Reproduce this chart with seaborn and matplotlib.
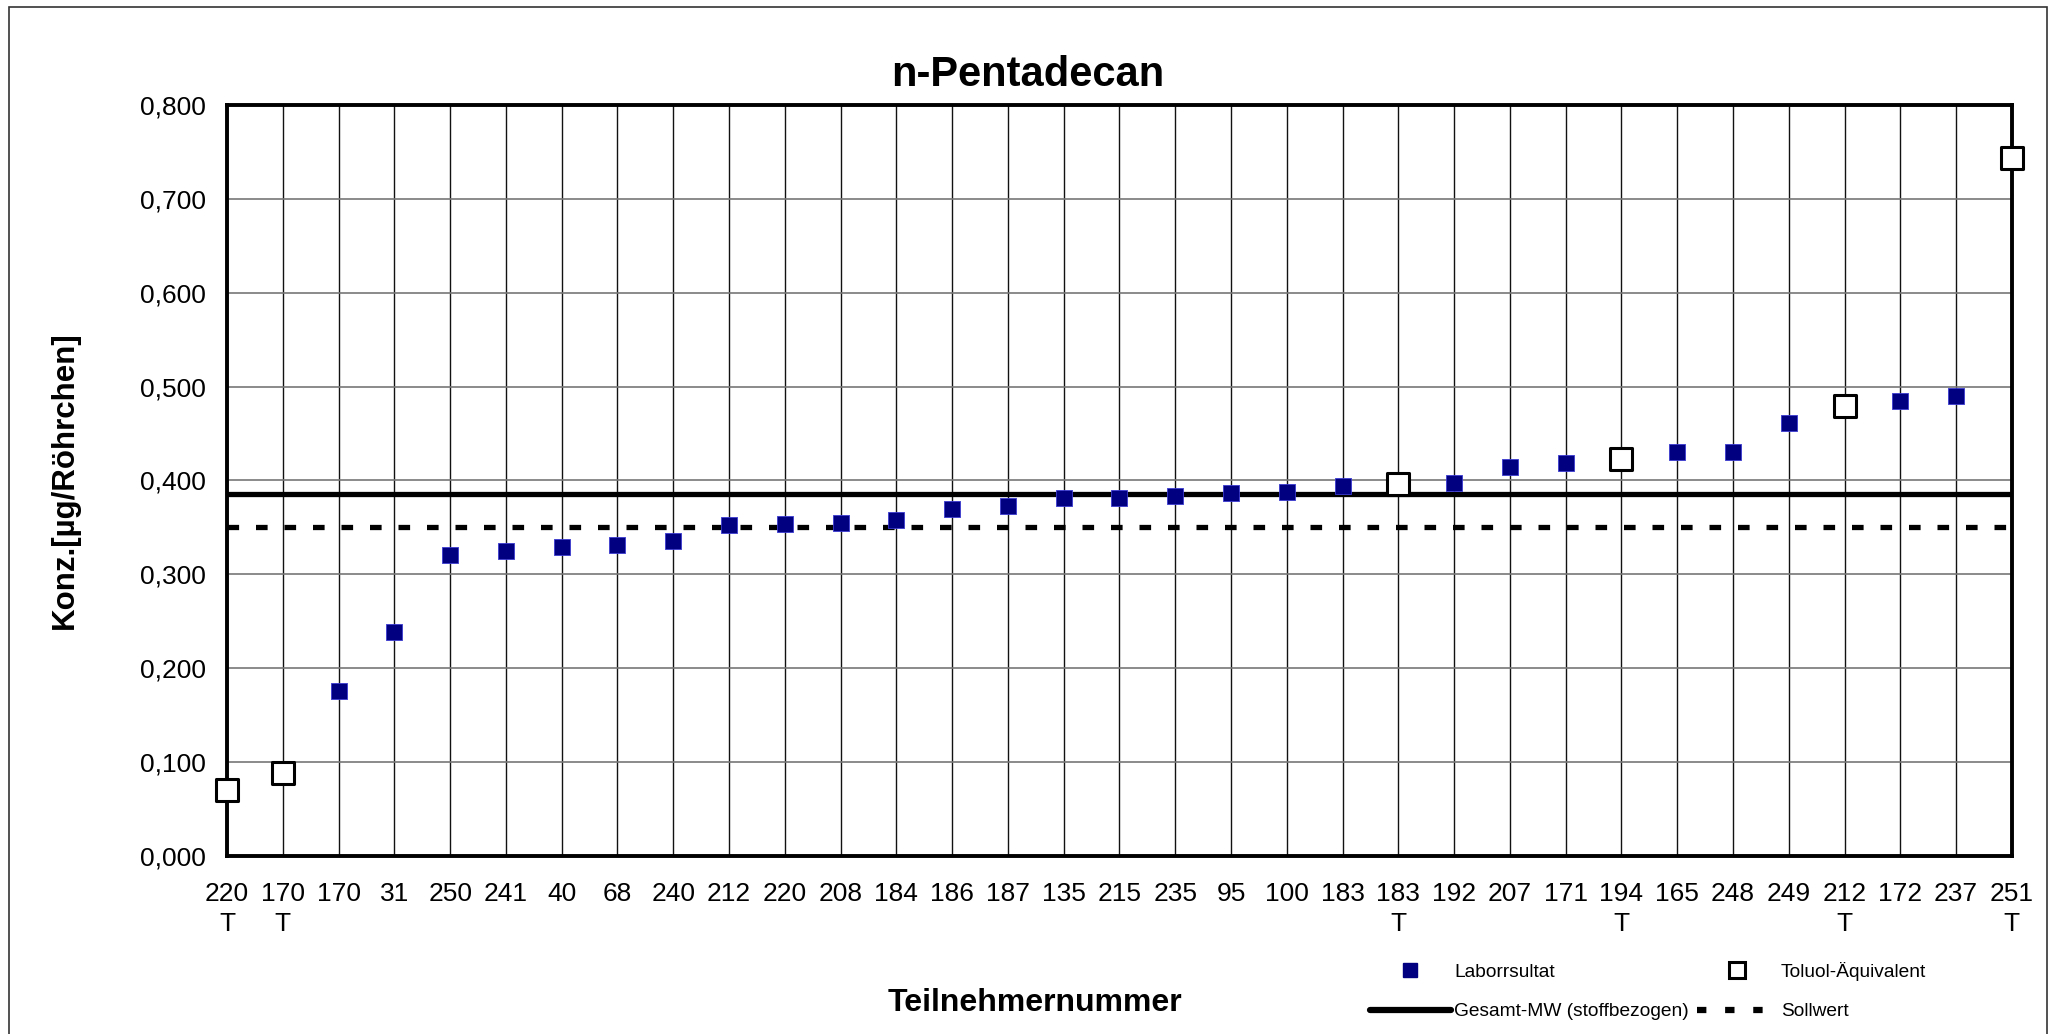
import matplotlib
matplotlib.use("Agg")
import matplotlib.pyplot as plt
import matplotlib.patches as mpatches
from matplotlib.lines import Line2D
from matplotlib.ticker import FuncFormatter, MultipleLocator
import pandas as pd
import seaborn as sns

# participant numbers along the x axis, "T" marks toluene-equivalent results
teilnehmer = ["220", "170", "170", "31", "250", "241", "40", "68", "240", "212",
              "220", "208", "184", "186", "187", "135", "215", "235", "95", "100",
              "183", "183", "192", "207", "171", "194", "165", "248", "249", "212",
              "172", "237", "251"]
toluol = [True, True, False, False, False, False, False, False, False, False,
          False, False, False, False, False, False, False, False, False, False,
          False, True, False, False, False, True, False, False, False, True,
          False, False, True]
konz = [0.070, 0.088, 0.176, 0.239, 0.321, 0.325, 0.329, 0.331, 0.336, 0.353,
        0.354, 0.355, 0.358, 0.370, 0.373, 0.381, 0.381, 0.383, 0.387, 0.388,
        0.394, 0.396, 0.397, 0.414, 0.419, 0.423, 0.430, 0.430, 0.461, 0.479,
        0.485, 0.490, 0.743]
gesamt_mw = 0.386
sollwert = 0.351

df = pd.DataFrame({"pos": range(len(konz)), "konz": konz, "toluol": toluol})
tick_labels = [t + ("\nT" if tol else "") for t, tol in zip(teilnehmer, toluol)]

sns.set_style("white")
plt.rcParams["font.family"] = ["Liberation Sans", "DejaVu Sans"]
plt.rcParams["text.color"] = "black"
plt.rcParams["xtick.labelcolor"] = "black"
plt.rcParams["ytick.labelcolor"] = "black"

fig = plt.figure(figsize=(20.55, 10.34), dpi=100)
ax = fig.add_axes([0.1105, 0.1721, 0.979 - 0.1105, 0.8985 - 0.1721])

# outer chart frame
fig.patches.append(mpatches.Rectangle((9 / 2055, -0.01), (2047 - 9) / 2055, 1 - 7 / 1034 + 0.01,
                                      transform=fig.transFigure, fill=False,
                                      edgecolor="#333333", linewidth=1.2))

ax.set_xlim(0, len(konz) - 1)
ax.set_ylim(0, 0.8)
ax.xaxis.set_major_locator(MultipleLocator(1))
ax.yaxis.set_major_locator(MultipleLocator(0.1))
ax.yaxis.set_major_formatter(FuncFormatter(lambda v, _: f"{v:.3f}".replace(".", ",")))
ax.set_xticks(range(len(konz)))
ax.set_xticklabels(tick_labels, fontsize=19, linespacing=1.3)
ax.tick_params(axis="y", labelsize=19, length=9, width=1.2, color="#666666", pad=6,
               direction="out", labelcolor="black")
ax.tick_params(axis="x", length=9, width=1.2, color="#666666", pad=10,
               direction="out", labelcolor="black")

ax.grid(axis="x", color="#111111", linewidth=1.0)
ax.grid(axis="y", color="#777777", linewidth=1.2)
ax.set_axisbelow(True)
for s in ax.spines.values():
    s.set_linewidth(2.8)
    s.set_color("black")

ax.axhline(gesamt_mw, color="black", linewidth=3.8, zorder=3)
ax.axhline(sollwert, color="black", linewidth=3.8, linestyle=(0, (2.2, 3.2)), zorder=3)

lab = df[~df["toluol"]]
tol = df[df["toluol"]]
sns.scatterplot(data=lab, x="pos", y="konz", ax=ax, marker="s", s=130,
                color="#000080", edgecolor="#3a3ad0", linewidth=0.6, zorder=5, clip_on=False)
sns.scatterplot(data=tol, x="pos", y="konz", ax=ax, marker="s", s=260,
                facecolor="white", edgecolor="black", linewidth=2.2, zorder=5, clip_on=False)

ax.set_xlabel("")
ax.set_ylabel("")
fig.text(1028 / 2055, 1 - 75 / 1034, "n-Pentadecan", fontsize=30, fontweight="bold",
         ha="center", va="center", color="black")
fig.text(65 / 2055, 1 - 480 / 1034, "Konz.[µg/Röhrchen]", fontsize=22.5, fontweight="bold",
         rotation=90, ha="center", va="center", color="black")
fig.text(1035 / 2055, 1 - 1003 / 1034, "Teilnehmernummer", fontsize=23, fontweight="bold",
         ha="center", va="center", color="black")

handles = [
    Line2D([], [], linestyle="none", marker="s", markersize=10, color="#000080"),
    Line2D([], [], color="black", linewidth=4.5),
    Line2D([], [], linestyle="none", marker="s", markersize=11, markerfacecolor="white",
           markeredgecolor="black", markeredgewidth=2.2),
    Line2D([], [], color="black", linewidth=4.5, linestyle=(0, (1.5, 3.0))),
]
labels = ["Laborrsultat", "Gesamt-MW (stoffbezogen)", "Toluol-Äquivalent", "Sollwert"]
fig.legend(handles, labels, ncol=2, loc="center left", bbox_to_anchor=(1370 / 2055, 1 - 991 / 1034),
           frameon=False, fontsize=13.8, handlelength=4.2, handletextpad=0.2,
           columnspacing=0.4, labelspacing=1.15, borderpad=0, borderaxespad=0)

fig.savefig("out.png", dpi=100)
